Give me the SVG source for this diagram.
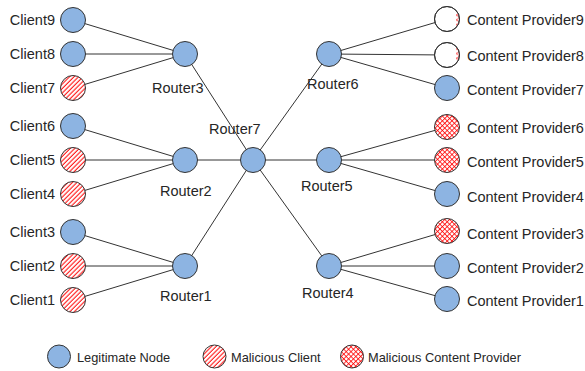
<svg xmlns="http://www.w3.org/2000/svg" width="585" height="371" viewBox="0 0 585 371">
<style>
text{font-family:"Liberation Sans",Arial,sans-serif;font-size:14.5px;fill:#262626}
#legend text{font-size:12.8px}
.lbl{text-anchor:end}
.n{stroke:#333;stroke-width:1}
.leg{fill:#8DB4E2}
.mc{fill:url(#hatch)}
.mp{fill:url(#cross)}
.w{fill:#fff}
#edges line{stroke:#333;stroke-width:1}
</style>
<defs>
<pattern id="hatch" patternUnits="userSpaceOnUse" width="3.2" height="3.2" patternTransform="rotate(45)">
<rect width="3.2" height="3.2" fill="#fff"/>
<line x1="1" y1="0" x2="1" y2="3.2" stroke="#f00" stroke-width="1"/>
</pattern>
<pattern id="cross" patternUnits="userSpaceOnUse" width="3.4" height="3.4" patternTransform="rotate(45)">
<rect width="3.4" height="3.4" fill="#fff"/>
<line x1="0.5" y1="0" x2="0.5" y2="3.4" stroke="#f00" stroke-width="0.8"/>
<line x1="0" y1="0.5" x2="3.4" y2="0.5" stroke="#f00" stroke-width="0.8"/>
</pattern>
<clipPath id="sl9"><rect x="456" y="5" width="5" height="30"/></clipPath>
<clipPath id="sl8"><rect x="456" y="41" width="5" height="30"/></clipPath>
</defs>
<g id="edges">
<line x1="73" y1="20" x2="185" y2="54"/>
<line x1="73" y1="54" x2="185" y2="54"/>
<line x1="73" y1="88" x2="185" y2="54"/>
<line x1="73" y1="126" x2="185" y2="160"/>
<line x1="73" y1="160" x2="185" y2="160"/>
<line x1="73" y1="194" x2="185" y2="160"/>
<line x1="73" y1="232" x2="185" y2="266"/>
<line x1="73" y1="266" x2="185" y2="266"/>
<line x1="73" y1="300" x2="185" y2="266"/>
<line x1="185" y1="54" x2="253" y2="160"/>
<line x1="185" y1="160" x2="253" y2="160"/>
<line x1="185" y1="266" x2="253" y2="160"/>
<line x1="329" y1="54" x2="253" y2="160"/>
<line x1="329" y1="160" x2="253" y2="160"/>
<line x1="329" y1="266" x2="253" y2="160"/>
<line x1="329" y1="54" x2="447" y2="19"/>
<line x1="329" y1="54" x2="447" y2="55"/>
<line x1="329" y1="54" x2="447" y2="88"/>
<line x1="329" y1="160" x2="447" y2="127"/>
<line x1="329" y1="160" x2="447" y2="160"/>
<line x1="329" y1="160" x2="447" y2="194"/>
<line x1="329" y1="266" x2="447" y2="231"/>
<line x1="329" y1="266" x2="447" y2="266"/>
<line x1="329" y1="266" x2="447" y2="299"/>
</g>
<g id="client9"><circle class="n leg" cx="73" cy="20" r="12.5"/><text class="lbl" x="55" y="25">Client9</text></g>
<g id="client8"><circle class="n leg" cx="73" cy="54" r="12.5"/><text class="lbl" x="55" y="59">Client8</text></g>
<g id="client7"><circle class="n mc" cx="73" cy="88" r="12.5"/><text class="lbl" x="55" y="93">Client7</text></g>
<g id="client6"><circle class="n leg" cx="73" cy="126" r="12.5"/><text class="lbl" x="55" y="131">Client6</text></g>
<g id="client5"><circle class="n mc" cx="73" cy="160" r="12.5"/><text class="lbl" x="55" y="165">Client5</text></g>
<g id="client4"><circle class="n mc" cx="73" cy="194" r="12.5"/><text class="lbl" x="55" y="199">Client4</text></g>
<g id="client3"><circle class="n leg" cx="73" cy="232" r="12.5"/><text class="lbl" x="55" y="237">Client3</text></g>
<g id="client2"><circle class="n mc" cx="73" cy="266" r="12.5"/><text class="lbl" x="55" y="271">Client2</text></g>
<g id="client1"><circle class="n mc" cx="73" cy="300" r="12.5"/><text class="lbl" x="55" y="305">Client1</text></g>
<g id="router3"><circle class="n leg" cx="185" cy="54" r="12.5"/><text x="152" y="93">Router3</text></g>
<g id="router2"><circle class="n leg" cx="185" cy="160" r="12.5"/><text x="160" y="196">Router2</text></g>
<g id="router1"><circle class="n leg" cx="185" cy="266" r="12.5"/><text x="160" y="301">Router1</text></g>
<g id="router7"><circle class="n leg" cx="253" cy="160" r="12.5"/><text x="209" y="134">Router7</text></g>
<g id="router6"><circle class="n leg" cx="329" cy="54" r="12.5"/><text x="307" y="89">Router6</text></g>
<g id="router5"><circle class="n leg" cx="329" cy="160" r="12.5"/><text x="301" y="191">Router5</text></g>
<g id="router4"><circle class="n leg" cx="329" cy="266" r="12.5"/><text x="302" y="298">Router4</text></g>
<g id="cp9"><circle class="n w" cx="447" cy="19" r="12.5"/><circle cx="447" cy="19" r="12" fill="url(#cross)" clip-path="url(#sl9)" opacity="0.6"/><circle cx="447" cy="19" r="12.5" fill="none" stroke="#333"/><text x="467" y="25">Content Provider9</text></g>
<g id="cp8"><circle class="n w" cx="447" cy="55" r="12.5"/><circle cx="447" cy="55" r="12" fill="url(#cross)" clip-path="url(#sl8)" opacity="0.6"/><circle cx="447" cy="55" r="12.5" fill="none" stroke="#333"/><text x="467" y="61">Content Provider8</text></g>
<g id="cp7"><circle class="n leg" cx="447" cy="88" r="12.5"/><text x="467" y="95">Content Provider7</text></g>
<g id="cp6"><circle class="n mp" cx="447" cy="127" r="12.5"/><text x="467" y="133">Content Provider6</text></g>
<g id="cp5"><circle class="n mp" cx="447" cy="160" r="12.5"/><text x="467" y="167">Content Provider5</text></g>
<g id="cp4"><circle class="n leg" cx="447" cy="194" r="12.5"/><text x="467" y="202">Content Provider4</text></g>
<g id="cp3"><circle class="n mp" cx="447" cy="231" r="12.5"/><text x="467" y="239">Content Provider3</text></g>
<g id="cp2"><circle class="n leg" cx="447" cy="266" r="12.5"/><text x="467" y="273">Content Provider2</text></g>
<g id="cp1"><circle class="n leg" cx="447" cy="299" r="12.5"/><text x="467" y="306">Content Provider1</text></g>
<g id="legend">
<circle class="n leg" cx="59" cy="356.5" r="11.5"/><text x="77" y="362">Legitimate Node</text>
<circle class="n mc" cx="214.5" cy="356.5" r="11.5"/><text x="231" y="362">Malicious Client</text>
<circle class="n mp" cx="352" cy="356.5" r="11.5"/><text x="368" y="362">Malicious Content Provider</text>
</g>
</svg>
